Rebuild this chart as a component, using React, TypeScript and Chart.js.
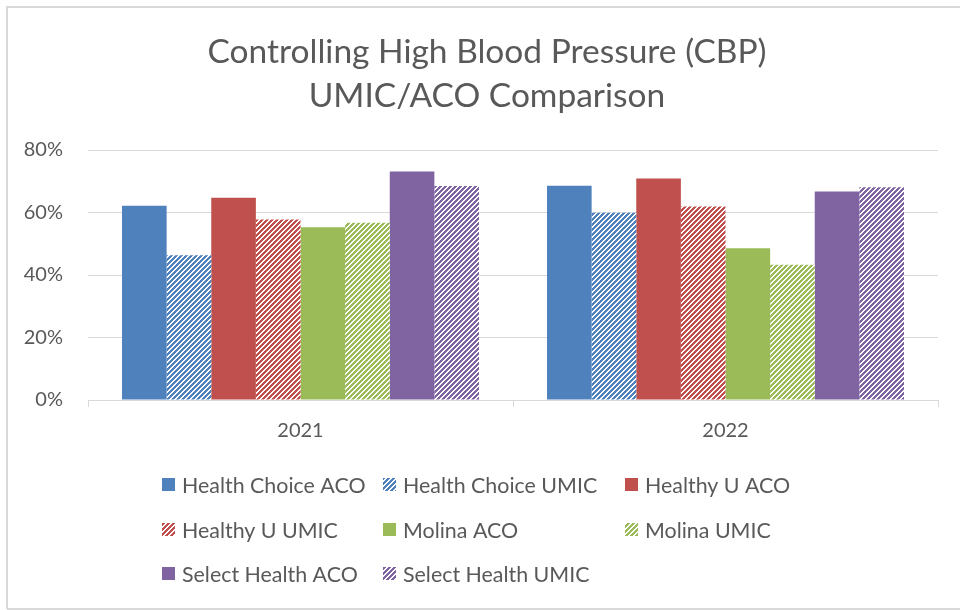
import React, { useEffect, useRef } from "react";
import { Chart, registerables } from "chart.js";

Chart.register(...registerables);

const categories = ["2021", "2022"];
const seriesNames = [
  "Health Choice ACO",
  "Health Choice UMIC",
  "Healthy U ACO",
  "Healthy U UMIC",
  "Molina ACO",
  "Molina UMIC",
  "Select Health ACO",
  "Select Health UMIC",
];
const healthChoiceACO = [62.2, 68.6];
const healthChoiceUMIC = [46.3, 59.9];
const healthyUACO = [64.7, 70.9];
const healthyUUMIC = [57.8, 61.9];
const molinaACO = [55.3, 48.6];
const molinaUMIC = [56.7, 43.3];
const selectHealthACO = [73.1, 66.7];
const selectHealthUMIC = [68.5, 68.1];
const seriesValues = [
  healthChoiceACO,
  healthChoiceUMIC,
  healthyUACO,
  healthyUUMIC,
  molinaACO,
  molinaUMIC,
  selectHealthACO,
  selectHealthUMIC,
];
const yTicks = [0, 20, 40, 60, 80];
const titleLines = ["Controlling High Blood Pressure (CBP)", "UMIC/ACO Comparison"];

const baseColors = ["#4F81BD", "#4F81BD", "#C0504D", "#C0504D", "#9BBB59", "#9BBB59", "#8064A2", "#8064A2"];
const striped = [false, true, false, true, false, true, false, true];

const FONT = "Lato, 'Open Sans', sans-serif";
const TEXT = "#595959";
const GRID = "#D9D9D9";

function makePattern(color: string): CanvasPattern | string {
  const size = 5;
  const c = document.createElement("canvas");
  c.width = size;
  c.height = size;
  const ctx = c.getContext("2d");
  if (!ctx) return color;
  ctx.fillStyle = "#ffffff";
  ctx.fillRect(0, 0, size, size);
  ctx.fillStyle = color;
  for (let x = 0; x < size; x++) {
    for (let y = 0; y < size; y++) {
      if ((x + y) % size < 3) ctx.fillRect(x, y, 1, 1);
    }
  }
  const p = ctx.createPattern(c, "repeat");
  return p || color;
}

const decorPlugin = {
  id: "decor",
  beforeDraw(chart: any) {
    const ctx = chart.ctx;
    ctx.save();
    ctx.fillStyle = "#ffffff";
    ctx.fillRect(0, 0, chart.width, chart.height);
    ctx.strokeStyle = GRID;
    ctx.lineWidth = 2;
    ctx.beginPath();
    ctx.moveTo(7, 609);
    ctx.lineTo(7, 7);
    ctx.lineTo(962, 7);
    ctx.moveTo(7, 609);
    ctx.lineTo(962, 609);
    ctx.stroke();
    ctx.restore();
  },
  afterDraw(chart: any) {
    const ctx = chart.ctx;
    ctx.save();
    // title
    ctx.fillStyle = TEXT;
    ctx.font = `33.5px ${FONT}`;
    ctx.textAlign = "center";
    ctx.textBaseline = "middle";
    ctx.fillText(titleLines[0], 487, 52);
    ctx.fillText(titleLines[1], 487, 96);
    // legend
    const cols = [162, 383, 625];
    const rows = [485, 530, 574];
    ctx.font = `21.4px ${FONT}`;
    ctx.textAlign = "left";
    ctx.textBaseline = "middle";
    chart.data.datasets.forEach((ds: any, i: number) => {
      const x = cols[i % 3];
      const y = rows[Math.floor(i / 3)];
      ctx.fillStyle = ds.backgroundColor;
      ctx.fillRect(x, y - 7, 13, 13);
      ctx.fillStyle = TEXT;
      ctx.fillText(ds.label, x + 20, y + 1);
    });
    ctx.restore();
  },
};

export default function App() {
  const ref = useRef<HTMLCanvasElement | null>(null);
  useEffect(() => {
    if (!ref.current) return;
    const datasets = seriesNames.map((name, i) => ({
      label: name,
      data: seriesValues[i],
      backgroundColor: striped[i] ? makePattern(baseColors[i]) : baseColors[i],
      borderWidth: 0,
      categoryPercentage: 0.84,
      barPercentage: 1.0,
    }));
    const chart = new Chart(ref.current, {
      type: "bar",
      data: { labels: categories, datasets: datasets as any },
      options: {
        animation: false,
        responsive: false,
        maintainAspectRatio: false,
        layout: { padding: { left: 0, top: 150, right: 22, bottom: 0 } },
        plugins: { legend: { display: false }, title: { display: false }, tooltip: { enabled: false } },
        scales: {
          x: {
            grid: { display: true, drawOnChartArea: false, drawTicks: true, tickLength: 7, color: GRID, offset: true },
            border: { display: true, color: GRID, width: 1 },
            ticks: { color: TEXT, font: { family: FONT, size: 20 }, padding: 12 },
            afterFit: (scale: any) => {
              scale.height = 210;
            },
          },
          y: {
            min: 0,
            max: 80,
            afterBuildTicks: (scale: any) => {
              scale.ticks = yTicks.map((v) => ({ value: v }));
            },
            grid: { color: GRID, drawTicks: false, lineWidth: 1 },
            border: { display: false },
            ticks: {
              color: TEXT,
              font: { family: FONT, size: 20 },
              padding: 25,
              callback: (v: any) => `${v}%`,
            },
            afterFit: (scale: any) => {
              scale.width = 88;
            },
          },
        },
      },
      plugins: [decorPlugin],
    });
    return () => chart.destroy();
  }, []);
  return (
    <div style={{ position: "fixed", left: 0, top: 0, width: 960, height: 610, background: "#fff" }}>
      <canvas ref={ref} width={960} height={610} style={{ width: 960, height: 610, display: "block" }} />
    </div>
  );
}
